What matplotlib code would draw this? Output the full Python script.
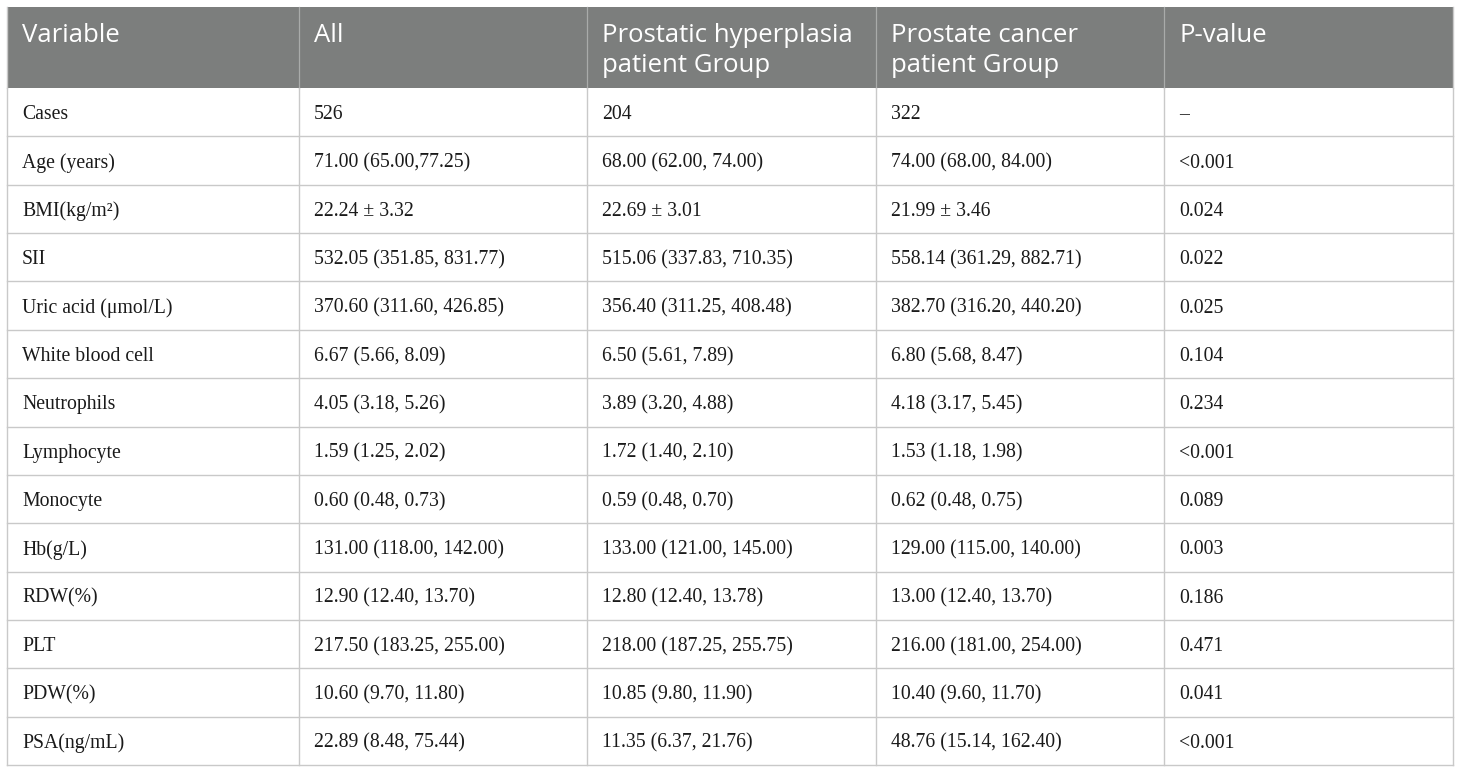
import matplotlib
matplotlib.use("Agg")
import matplotlib.pyplot as plt
from matplotlib.patches import Rectangle

headers = ["Variable", "All", "Prostatic hyperplasia\npatient Group",
           "Prostate cancer\npatient Group", "P-value"]

variables = ["Cases", "Age (years)", "BMI(kg/m²)", "SII", "Uric acid (μmol/L)",
             "White blood cell", "Neutrophils", "Lymphocyte", "Monocyte",
             "Hb(g/L)", "RDW(%)", "PLT", "PDW(%)", "PSA(ng/mL)"]

all_group = ["526", "71.00 (65.00,77.25)", "22.24 ± 3.32",
             "532.05 (351.85, 831.77)", "370.60 (311.60, 426.85)",
             "6.67 (5.66, 8.09)", "4.05 (3.18, 5.26)", "1.59 (1.25, 2.02)",
             "0.60 (0.48, 0.73)", "131.00 (118.00, 142.00)",
             "12.90 (12.40, 13.70)", "217.50 (183.25, 255.00)",
             "10.60 (9.70, 11.80)", "22.89 (8.48, 75.44)"]

hyperplasia = ["204", "68.00 (62.00, 74.00)", "22.69 ± 3.01",
               "515.06 (337.83, 710.35)", "356.40 (311.25, 408.48)",
               "6.50 (5.61, 7.89)", "3.89 (3.20, 4.88)", "1.72 (1.40, 2.10)",
               "0.59 (0.48, 0.70)", "133.00 (121.00, 145.00)",
               "12.80 (12.40, 13.78)", "218.00 (187.25, 255.75)",
               "10.85 (9.80, 11.90)", "11.35 (6.37, 21.76)"]

cancer = ["322", "74.00 (68.00, 84.00)", "21.99 ± 3.46",
          "558.14 (361.29, 882.71)", "382.70 (316.20, 440.20)",
          "6.80 (5.68, 8.47)", "4.18 (3.17, 5.45)", "1.53 (1.18, 1.98)",
          "0.62 (0.48, 0.75)", "129.00 (115.00, 140.00)",
          "13.00 (12.40, 13.70)", "216.00 (181.00, 254.00)",
          "10.40 (9.60, 11.70)", "48.76 (15.14, 162.40)"]

p_values = ["–", "<0.001", "0.024", "0.022", "0.025", "0.104", "0.234",
            "<0.001", "0.089", "0.003", "0.186", "0.471", "0.041", "<0.001"]

# layout in pixels
W, H = 1460, 772
col_edges = [7, 299, 587, 876, 1164, 1453]
top, head_bottom, bottom = 7, 88, 765
header_color = "#7c7e7d"
line_color = "#c9c9c9"
pad = 15

fig = plt.figure(figsize=(W / 100, H / 100), dpi=100)
ax = fig.add_axes([0, 0, 1, 1])
ax.set_xlim(0, W)
ax.set_ylim(H, 0)
ax.axis("off")

# header band
ax.add_patch(Rectangle((col_edges[0], top), col_edges[-1] - col_edges[0],
                       head_bottom - top, facecolor=header_color,
                       edgecolor="none"))
for x in col_edges[1:-1]:
    ax.plot([x, x], [top, head_bottom], color="#a9abaa", lw=0.9)

for i, h in enumerate(headers):
    for k, line in enumerate(h.split("\n")):
        ax.text(col_edges[i] + pad, 42 + 30 * k, line, color="white",
                fontsize=18.5, family="Open Sans", ha="left", va="baseline")

columns = [variables, all_group, hyperplasia, cancer, p_values]
n = len(variables)
row_h = (bottom - head_bottom) / n

for r in range(n):
    y_mid = head_bottom + row_h * (r + 0.5)
    for c, col in enumerate(columns):
        ax.text(col_edges[c] + pad, y_mid, col[r], color="#1a1a1a",
                fontsize=14.2, family=["Liberation Serif", "DejaVu Serif"],
                ha="left", va="center_baseline")
    yl = head_bottom + row_h * (r + 1)
    ax.plot([col_edges[0], col_edges[-1]], [yl, yl], color=line_color, lw=1)

for x in col_edges:
    ax.plot([x, x], [head_bottom, bottom], color=line_color, lw=1)
ax.plot([col_edges[0], col_edges[0]], [top, head_bottom], color=line_color, lw=1)
ax.plot([col_edges[-1], col_edges[-1]], [top, head_bottom], color=line_color, lw=1)

fig.savefig("out.png", dpi=100)
